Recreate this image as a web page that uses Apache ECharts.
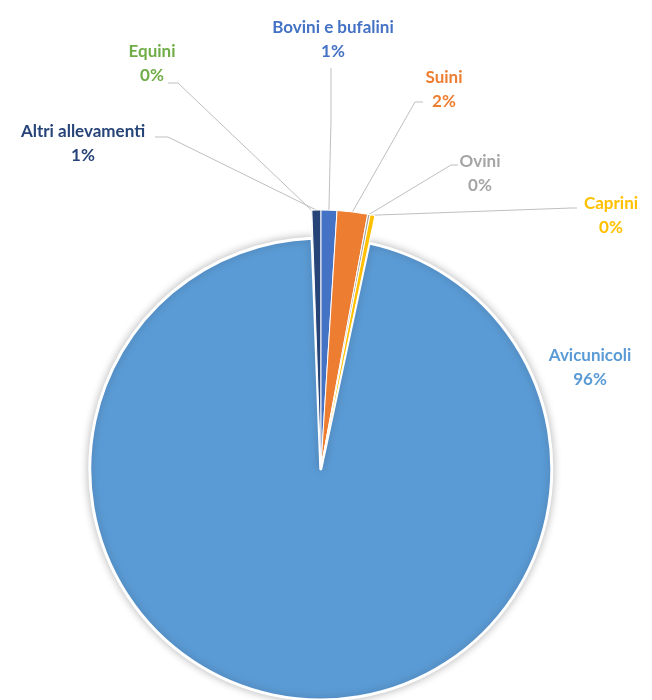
<!DOCTYPE html>
<html>
<head>
<meta charset="utf-8">
<script src="https://cdn.jsdelivr.net/npm/echarts@6/dist/echarts.min.js"></script>
<style>
  html, body { margin: 0; padding: 0; background: #ffffff; }
  #chart { width: 652px; height: 700px; }
</style>
</head>
<body>
<div id="chart"></div>
<script>
// ---- data ----
const categories = ['Bovini e bufalini', 'Suini', 'Ovini', 'Caprini', 'Avicunicoli', 'Equini', 'Altri allevamenti'];
const shares = [1.0, 1.9, 0.15, 0.3, 96.05, 0.05, 0.55];
const colors = ['#4472C4', '#ED7D31', '#A5A5A5', '#FFC000', '#5B9BD5', '#70AD47', '#264478'];
const labelColors = ['#4472C4', '#ED7D31', '#A5A5A5', '#FFC000', '#5B9BD5', '#70AD47', '#264478'];
const bigCategory = 'Avicunicoli';

// ---- label placement (label block centre and leader-line end, elbow) ----
const labelSpots = {
  'Bovini e bufalini': { x: 333, y: 40, end: [331, 68], elbow: [331, 120] },
  'Suini': { x: 444, y: 90, end: [423, 102], elbow: [415, 102] },
  'Ovini': { x: 480, y: 174, end: [458, 165], elbow: [451, 165] },
  'Caprini': { x: 611, y: 216, end: [577, 208], elbow: [571, 208] },
  'Avicunicoli': { x: 590, y: 368 },
  'Equini': { x: 152, y: 64, end: [168, 83], elbow: [178, 83] },
  'Altri allevamenti': { x: 83, y: 144, end: [155, 137], elbow: [168, 137] }
};

const chart = echarts.init(document.getElementById('chart'), null, { renderer: 'canvas' });

const center = ['49.2%', '67%'];

function buildData(showBig) {
  return categories.map(function (name, i) {
    const isBig = name === bigCategory;
    const visible = isBig === showBig;
    return {
      name: name,
      value: shares[i],
      itemStyle: visible ? { color: colors[i] } : { color: 'rgba(0,0,0,0)', borderWidth: 0, shadowBlur: 0 },
      label: { show: visible, color: labelColors[i] },
      labelLine: { show: visible && !isBig }
    };
  });
}

function layoutFn(params) {
  const name = categories[params.dataIndex];
  const spot = labelSpots[name];
  if (!spot) return {};
  const out = { x: spot.x, y: spot.y, align: 'center', verticalAlign: 'middle' };
  if (spot.end && params.labelLinePoints) {
    const p0 = params.labelLinePoints[0];
    out.labelLinePoints = [[p0[0], p0[1]], spot.elbow, spot.end];
  }
  return out;
}

const labelCommon = {
  position: 'outside',
  formatter: '{b}\n{d}%',
  fontFamily: 'Lato, "Open Sans", sans-serif',
  fontWeight: 'bold',
  fontSize: 17,
  lineHeight: 24,
  align: 'center'
};

chart.setOption({
  backgroundColor: '#ffffff',
  animation: false,
  series: [
    {
      type: 'pie',
      center: center,
      radius: 231,
      startAngle: 90,
      clockwise: true,
      percentPrecision: 0,
      avoidLabelOverlap: false,
      silent: true,
      itemStyle: {
        borderColor: '#ffffff',
        borderWidth: 3,
        shadowBlur: 8,
        shadowColor: 'rgba(0,0,0,0.25)'
      },
      label: labelCommon,
      labelLine: { show: false },
      labelLayout: layoutFn,
      data: buildData(true)
    },
    {
      type: 'pie',
      center: center,
      radius: 259,
      startAngle: 90,
      clockwise: true,
      percentPrecision: 0,
      avoidLabelOverlap: false,
      silent: true,
      itemStyle: {
        borderColor: '#ffffff',
        borderWidth: 1
      },
      label: labelCommon,
      labelLine: {
        show: true,
        length: 20,
        length2: 10,
        lineStyle: { color: '#BFBFBF', width: 1 }
      },
      labelLayout: layoutFn,
      data: buildData(false)
    }
  ]
});
</script>
</body>
</html>
